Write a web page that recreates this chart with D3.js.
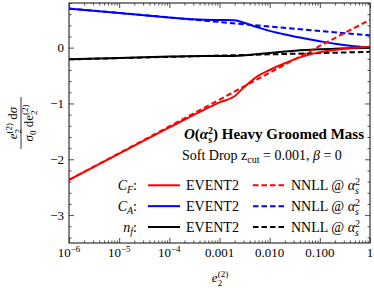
<!DOCTYPE html>
<html><head><meta charset="utf-8">
<script src="https://cdn.jsdelivr.net/npm/d3@7"></script>
<style>
body{margin:0;background:#fff}
svg{display:block;font-family:"Liberation Serif","Times New Roman",serif}
</style></head><body>
<svg id="chart" width="374" height="288"></svg>
<script>
// EVENT2 sample points (e2) and read-off values
var e2Event = [1e-6, 1e-5, 1e-4, 5e-4, 1e-3, 2e-3, 3e-3, 4e-3, 6e-3, 0.01, 0.02, 0.04, 0.1, 0.2, 0.4, 1];
var cfEvent2 = [-2.37, -1.90, -1.43, -1.11, -0.98, -0.87, -0.72, -0.62, -0.50, -0.40, -0.28, -0.175, -0.08, -0.04, -0.01, 0.015];
var caEvent2 = [0.70, 0.62, 0.54, 0.50, 0.495, 0.49, 0.45, 0.41, 0.36, 0.30, 0.235, 0.18, 0.115, 0.07, 0.035, 0.0];
var nfEvent2 = [-0.21, -0.185, -0.16, -0.15, -0.15, -0.148, -0.14, -0.13, -0.115, -0.095, -0.07, -0.047, -0.03, -0.02, -0.01, 0.0];

// NNLL @ alpha_s^2
var e2Nnll = [1e-6, 1e-5, 1e-4, 1e-3, 1e-2, 1e-1, 1];
var cfNnll = [-2.37, -1.89, -1.41, -0.93, -0.45, 0.03, 0.50];
var caNnll = [0.70, 0.62, 0.54, 0.46, 0.38, 0.30, 0.22];
var nfNnll = [-0.21, -0.1875, -0.165, -0.1425, -0.12, -0.0975, -0.075];

var xTicks = [1e-6, 1e-5, 1e-4, 1e-3, 1e-2, 1e-1, 1];
var xTickLabels = [["10", "\u22126"], ["10", "\u22125"], ["10", "\u22124"], ["0.001"], ["0.010"], ["0.100"], ["1"]];
var yTicks = [-3, -2, -1, 0];
var yTickLabels = ["\u22123", "\u22122", "\u22121", "0"];

var legendNames = [["C", "F"], ["C", "A"], ["n", "f"]];
var colors = ["#ff0000", "#0000ff", "#000000"];

var svg = d3.select("#chart");
var L = 69, R = 370, T = 3, B = 243;

var x = d3.scaleLog().domain([1e-6, 1]).range([L, R]);
var y = d3.scaleLinear().domain([-3.5, 0.8]).range([B, T]);

svg.append("clipPath").attr("id", "clip")
  .append("rect").attr("x", L).attr("y", T).attr("width", R - L).attr("height", B - T);

var plot = svg.append("g").attr("clip-path", "url(#clip)");

function drawLine(xs, ys, color, dashed){
  var pts = xs.map(function(d, i){ return [d, ys[i]]; });
  plot.append("path")
    .datum(pts)
    .attr("fill", "none")
    .attr("stroke", color)
    .attr("stroke-width", 2)
    .attr("stroke-dasharray", dashed ? "5.5,3" : null)
    .attr("d", d3.line()
      .x(function(d){ return x(d[0]); })
      .y(function(d){ return y(d[1]); })
      .curve(d3.curveMonotoneX));
}

// dashed first, solid on top
drawLine(e2Nnll, caNnll, colors[1], true);
drawLine(e2Nnll, nfNnll, colors[2], true);
drawLine(e2Event, caEvent2, colors[1], false);
drawLine(e2Event, nfEvent2, colors[2], false);
drawLine(e2Event, cfEvent2, colors[0], false);
drawLine(e2Nnll, cfNnll, colors[0], true);

// minor ticks
var xMinor = [];
for (var d = -6; d < 0; d++)
  for (var k = 2; k <= 9; k++) xMinor.push(k * Math.pow(10, d));
var yMinor = d3.range(-34, 9, 2).map(function(v){ return v / 10; })
  .filter(function(v){ return Math.abs(v - Math.round(v)) > 1e-6; });

function frameAxis(axis, tr, vals, size){
  var g = svg.append("g").attr("transform", tr)
    .call(axis.tickValues(vals).tickSize(-size).tickSizeOuter(0).tickFormat(""));
  g.select(".domain").remove();
  g.selectAll(".tick text").remove();
  g.selectAll(".tick line").attr("stroke", "#222").attr("stroke-width", 0.8);
}
frameAxis(d3.axisBottom(x), "translate(0," + B + ")", xMinor, 2.5);
frameAxis(d3.axisBottom(x), "translate(0," + B + ")", xTicks, 5);
frameAxis(d3.axisTop(x), "translate(0," + T + ")", xMinor, 2.5);
frameAxis(d3.axisTop(x), "translate(0," + T + ")", xTicks, 5);
frameAxis(d3.axisLeft(y), "translate(" + L + ",0)", yMinor, 2.5);
frameAxis(d3.axisLeft(y), "translate(" + L + ",0)", yTicks, 5);
frameAxis(d3.axisRight(y), "translate(" + R + ",0)", yMinor, 2.5);
frameAxis(d3.axisRight(y), "translate(" + R + ",0)", yTicks, 5);

svg.append("rect").attr("x", L).attr("y", T).attr("width", R - L).attr("height", B - T)
  .attr("fill", "none").attr("stroke", "#333").attr("stroke-width", 1.2);

// tick labels
xTicks.forEach(function(v, i){
  var t = svg.append("text").attr("x", x(v)).attr("y", 257)
    .attr("text-anchor", "middle").attr("font-size", 13);
  t.append("tspan").text(xTickLabels[i][0]);
  if (xTickLabels[i][1])
    t.append("tspan").attr("dy", -5).attr("font-size", 9).text(xTickLabels[i][1]);
});
yTicks.forEach(function(v, i){
  svg.append("text").attr("x", 64).attr("y", y(v) + 4.5)
    .attr("text-anchor", "end").attr("font-size", 13).text(yTickLabels[i]);
});

function ts(t, str, o){
  o = o || {};
  var s = t.append("tspan").text(str);
  if (o.i) s.attr("font-style", "italic");
  if (o.b) s.attr("font-weight", "bold");
  if (o.s) s.attr("font-size", o.s);
  if (o.dy) s.attr("dy", o.dy);
  if (o.dx) s.attr("dx", o.dx);
  return s;
}

// x axis label
var xl = svg.append("text").attr("x", 220).attr("y", 282).attr("text-anchor", "middle").attr("font-size", 13);
ts(xl, "e", {i: 1}); ts(xl, "2", {s: 9, dy: 4}); ts(xl, "(2)", {s: 9, dy: -9, dx: -4.5});

// y axis label (fraction)
var yl = svg.append("g").attr("transform", "translate(21,123) rotate(-90)");
var num = yl.append("text").attr("y", -4).attr("text-anchor", "middle").attr("font-size", 13);
ts(num, "e", {i: 1}); ts(num, "2", {s: 9, dy: 4}); ts(num, "(2)", {s: 9, dy: -9, dx: -4.5});
ts(num, " d", {dy: 5}); ts(num, "\u03c3", {i: 1});
var den = yl.append("text").attr("y", 12).attr("text-anchor", "middle").attr("font-size", 13);
ts(den, "\u03c3", {i: 1}); ts(den, "0", {s: 9, dy: 3}); ts(den, " de", {dy: -3});
ts(den, "2", {s: 9, dy: 4}); ts(den, "(2)", {s: 9, dy: -9, dx: -4.5});
yl.append("line").attr("x1", -26).attr("x2", 26).attr("y1", 0).attr("y2", 0)
  .attr("stroke", "#000").attr("stroke-width", 0.8);

// title
var ti = svg.append("text").attr("x", 364).attr("y", 139).attr("text-anchor", "end")
  .attr("font-size", 15).attr("font-weight", "bold");
ts(ti, "O", {i: 1}); ts(ti, "("); ts(ti, "\u03b1", {i: 1});
ts(ti, "s", {s: 10, dy: 4}); ts(ti, "2", {s: 10, dy: -9, dx: -4});
ts(ti, ") Heavy Groomed Mass", {dy: 5});

var sd = svg.append("text").attr("x", 182).attr("y", 160).attr("font-size", 14);
ts(sd, "Soft Drop z"); ts(sd, "cut", {s: 10, dy: 3}); ts(sd, " = 0.001, ", {dy: -3});
ts(sd, "\u03b2", {i: 1}); ts(sd, " = 0");

// legend
legendNames.forEach(function(n, i){
  var ly = 185.3 + i * 20.85;
  var lt = svg.append("text").attr("x", 137).attr("y", ly + 4.5).attr("text-anchor", "end").attr("font-size", 14);
  ts(lt, n[0], {i: 1}); ts(lt, n[1], {i: 1, s: 10, dy: 3}); ts(lt, ":", {dy: -3});
  svg.append("line").attr("x1", 148).attr("x2", 180).attr("y1", ly).attr("y2", ly)
    .attr("stroke", colors[i]).attr("stroke-width", 2);
  svg.append("text").attr("x", 186).attr("y", ly + 4.5).attr("font-size", 14).text("EVENT2");
  svg.append("line").attr("x1", 253).attr("x2", 285).attr("y1", ly).attr("y2", ly)
    .attr("stroke", colors[i]).attr("stroke-width", 2).attr("stroke-dasharray", "5.5,3");
  var nt = svg.append("text").attr("x", 291).attr("y", ly + 4.5).attr("font-size", 14);
  ts(nt, "NNLL @ "); ts(nt, "\u03b1", {i: 1});
  ts(nt, "s", {i: 1, s: 10, dy: 4}); ts(nt, "2", {s: 10, dy: -9, dx: -4});
});
</script>
</body></html>
